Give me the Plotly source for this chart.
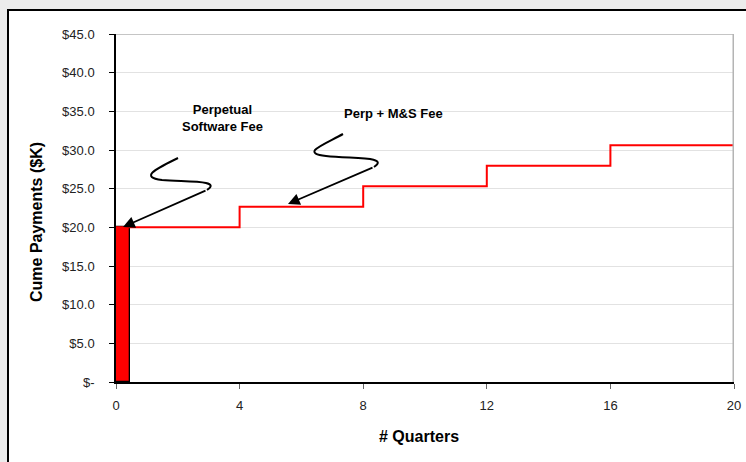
import plotly.graph_objects as go

# ---- data ----
quarters = [0, 4, 8, 12, 16, 20]
cume_payments = [20.0, 22.65, 25.3, 27.95, 30.6, 30.6]
perp_bar_x = [0.225]
perp_bar_y = [20.0]
y_tickvals = [0, 5, 10, 15, 20, 25, 30, 35, 40, 45]
y_ticktext = ["$-", "$5.0", "$10.0", "$15.0", "$20.0", "$25.0", "$30.0", "$35.0", "$40.0", "$45.0"]
x_tickvals = [0, 4, 8, 12, 16, 20]

FONT = "Liberation Sans, Arial, sans-serif"

# plot area geometry (pixels) used for placing decorations
L, R, T, B = 116, 734, 34, 382
W, H = 746, 462
XMAX, YMAX = 20.0, 45.0


def d(px, py):
    """pixel -> data coordinates for decorations"""
    return ((px - L) / (R - L) * XMAX, (B - py) / (B - T) * YMAX)


def path(cmds):
    out = []
    for c in cmds:
        if isinstance(c, str):
            out.append(c)
        else:
            x, y = d(*c)
            out.append(f"{x:.4f},{y:.4f}")
    return " ".join(out)


fig = go.Figure()

fig.add_trace(go.Bar(
    x=perp_bar_x, y=perp_bar_y, width=0.45,
    marker=dict(color="#ff0000", line=dict(color="black", width=1.3)),
    showlegend=False, hoverinfo="skip",
))
fig.add_trace(go.Scatter(
    x=quarters, y=cume_payments, mode="lines",
    line=dict(color="#ff0000", width=2, shape="hv"),
    showlegend=False,
))

shapes = []
# outer white frame
shapes.append(dict(type="rect", xref="paper", yref="paper",
                   x0=(8 - L) / (R - L), x1=(770 - L) / (R - L),
                   y0=(B - 480) / (B - T), y1=(B - 10) / (B - T),
                   fillcolor="white", line=dict(color="black", width=2), layer="below"))
# top and right plot border
shapes.append(dict(type="line", xref="x", yref="y", x0=0, x1=20, y0=45, y1=45,
                   line=dict(color="#8c8c8c", width=1.2)))
shapes.append(dict(type="line", xref="x", yref="y", x0=20, x1=20, y0=0, y1=45,
                   line=dict(color="#b4b4b4", width=3)))

# squiggles
sq1 = path(["M", (178, 158), "C", (158, 168), (138, 177), (162, 180),
            "C", (188, 182), (222, 180), (207, 190)])
sq2 = path(["M", (343, 134), "C", (323, 145), (300, 153), (326, 156),
            "C", (352, 159), (390, 156), (374, 167)])
for p in (sq1, sq2):
    shapes.append(dict(type="path", xref="x", yref="y", path=p,
                       line=dict(color="black", width=2)))

annotations = []
# arrows
for tail, tip in [((207, 190), (123, 227)), ((374, 167), (288, 204))]:
    tx, ty = d(*tip)
    ax, ay = d(*tail)
    annotations.append(dict(x=tx, y=ty, ax=ax, ay=ay, xref="x", yref="y",
                            axref="x", ayref="y", text="", showarrow=True,
                            arrowhead=2, arrowsize=1.3, arrowwidth=1.8,
                            arrowcolor="black", standoff=0))
# labels
x1, y1 = d(222, 118)
annotations.append(dict(x=x1, y=y1, xref="x", yref="y", text="<b>Perpetual<br>Software Fee</b>",
                        showarrow=False, font=dict(family=FONT, size=13, color="black"),
                        align="center", xanchor="center", yanchor="middle"))
x2, y2 = d(393, 113)
annotations.append(dict(x=x2, y=y2, xref="x", yref="y", text="<b>Perp + M&S Fee</b>",
                        showarrow=False, font=dict(family=FONT, size=13, color="black"),
                        xanchor="center", yanchor="middle"))
# axis titles
annotations.append(dict(x=(419 - L) / (R - L), y=(B - 436) / (B - T), xref="paper", yref="paper",
                        text="<b># Quarters</b>", showarrow=False,
                        xanchor="center", yanchor="middle",
                        font=dict(family=FONT, size=16, color="black")))
annotations.append(dict(x=(36 - L) / (R - L), y=(B - 222) / (B - T), xref="paper", yref="paper",
                        text="<b>Cume Payments ($K)</b>", showarrow=False, textangle=-90,
                        xanchor="center", yanchor="middle",
                        font=dict(family=FONT, size=16, color="black")))

fig.update_layout(
    width=W, height=H,
    margin=dict(l=L, r=W - R, t=T, b=H - B, pad=0),
    paper_bgcolor="#ececec",
    plot_bgcolor="white",
    font=dict(family=FONT, size=13, color="#222"),
    shapes=shapes,
    annotations=annotations,
    bargap=0,
    xaxis=dict(range=[0, 20], tickvals=x_tickvals, ticks="outside", ticklen=5,
               tickcolor="#666", showline=True, linecolor="black", linewidth=1.5,
               showgrid=False, zeroline=False, ticklabelstandoff=6,
               tickfont=dict(family=FONT, size=13, color="#222"), fixedrange=True,
               automargin=False),
    yaxis=dict(range=[0, 45], tickvals=y_tickvals, ticktext=y_ticktext,
               ticks="outside", ticklen=5, tickcolor="black",
               showline=True, linecolor="black", linewidth=1.5,
               showgrid=True, gridcolor="#e2e2e2", gridwidth=1, zeroline=False,
               ticklabelstandoff=12,
               tickfont=dict(family=FONT, size=13, color="#222"), fixedrange=True,
               automargin=False),
)

fig.write_html("out.html", config={"displayModeBar": False},
               post_script="document.body.style.margin='0';document.body.style.overflow='hidden';")
